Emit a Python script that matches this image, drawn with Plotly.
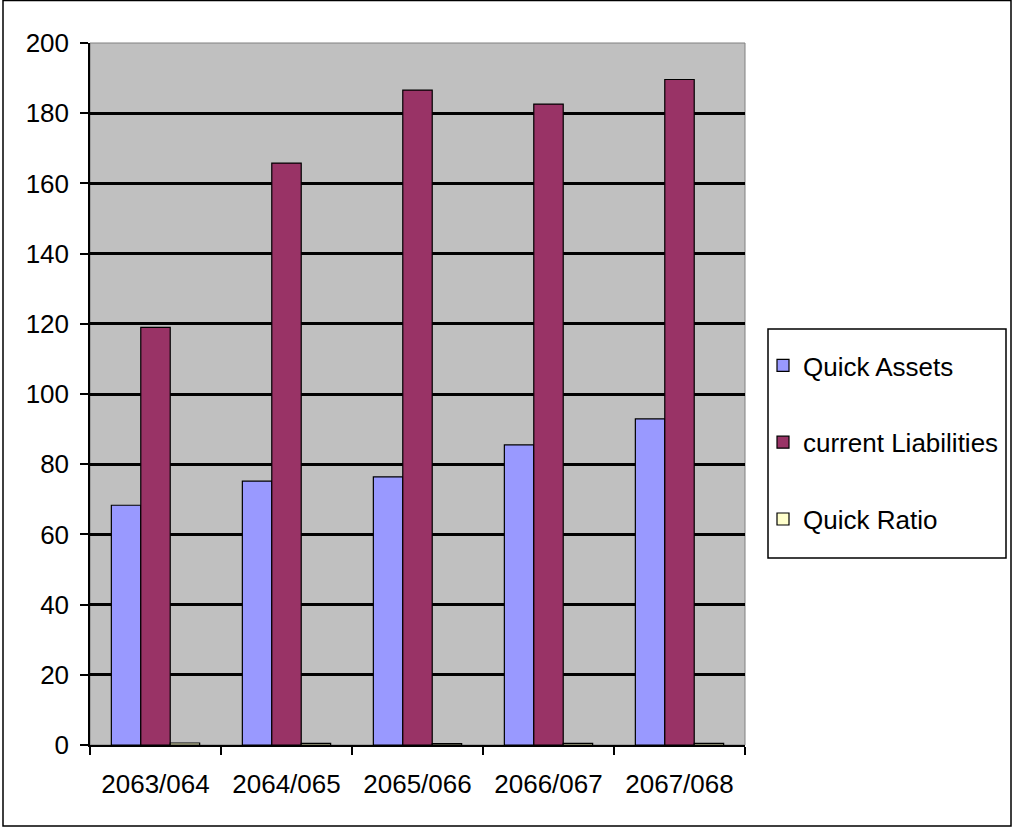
import plotly.graph_objects as go

categories = ["2063/064", "2064/065", "2065/066", "2066/067", "2067/068"]
quick_assets = [68.3, 75.2, 76.4, 85.5, 92.9]
current_liabilities = [119.0, 165.8, 186.6, 182.6, 189.6]
quick_ratio = [0.57, 0.45, 0.41, 0.47, 0.49]
y_ticks = [0, 20, 40, 60, 80, 100, 120, 140, 160, 180, 200]

W, H = 1013, 829
L, R, T, B = 90, 745, 43, 745
FONT = "Liberation Sans, Arial, sans-serif"
FS = 26

fig = go.Figure()
series = [
    ("Quick Assets", quick_assets, "#9999FF"),
    ("current Liabilities", current_liabilities, "#993366"),
    ("Quick Ratio", quick_ratio, "#FFFFCC"),
]
for i, (name, vals, col) in enumerate(series):
    fig.add_trace(go.Bar(
        x=categories, y=vals, name=name, legendgroup=f"g{i}",
        marker=dict(color=col, line=dict(color="black", width=1.2)),
    ))

pw, ph = R - L, B - T
def px(x):
    return (x - L) / pw
def py(y):
    return (B - y) / ph

fig.update_layout(
    width=W, height=H,
    margin=dict(l=L, r=W - R, t=T, b=H - B, pad=0, autoexpand=False),
    paper_bgcolor="white",
    plot_bgcolor="#C0C0C0",
    barmode="group",
    bargap=0.326,
    bargroupgap=0,
    font=dict(family=FONT, size=FS, color="black"),
    showlegend=True,
    legend=dict(
        x=px(763), y=py(342), xanchor="left", yanchor="top",
        borderwidth=0, bgcolor="rgba(0,0,0,0)",
        traceorder="grouped", tracegroupgap=40,
        font=dict(family=FONT, size=FS, color="black"),
        itemclick=False,
    ),
    xaxis=dict(
        showgrid=False, showline=True, linecolor="black", linewidth=1.5,
        ticks="outside", ticklen=8, tickcolor="black", tickwidth=1.5,
        tickson="boundaries", ticklabelstandoff=15,
        zeroline=False,
    ),
    yaxis=dict(
        range=[0, 200], tickvals=y_ticks,
        showgrid=True, gridcolor="black", gridwidth=3,
        showline=True, linecolor="black", linewidth=1.5,
        ticks="outside", ticklen=8, tickcolor="black", tickwidth=1.5,
        ticklabelstandoff=6, zeroline=False,
    ),
    shapes=[
        dict(type="rect", xref="paper", yref="paper",
             x0=px(3), x1=px(1011), y0=py(826), y1=py(0.5),
             line=dict(color="black", width=1.5), fillcolor="rgba(0,0,0,0)",
             layer="above"),
        dict(type="rect", xref="paper", yref="paper",
             x0=px(768), x1=px(1006), y0=py(558), y1=py(329),
             line=dict(color="black", width=1.5), fillcolor="rgba(0,0,0,0)",
             layer="above"),
        dict(type="rect", xref="paper", yref="paper",
             x0=0, x1=1, y0=0, y1=1,
             line=dict(color="#808080", width=1), fillcolor="rgba(0,0,0,0)",
             layer="below"),
    ],
)

fig.write_html("out.html")
